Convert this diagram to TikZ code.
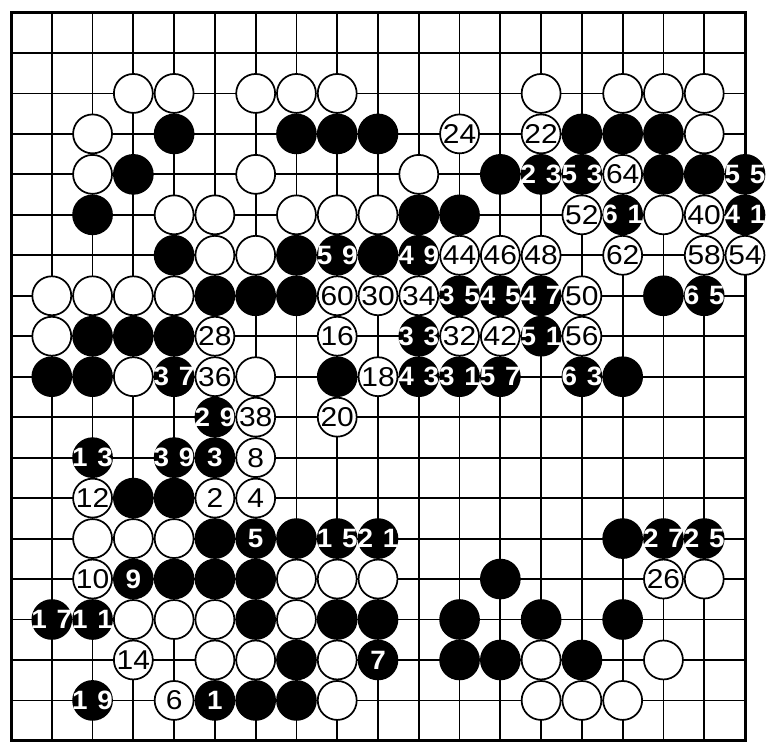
\documentclass[tikz,border=0pt]{standalone}
\usepackage{fontspec}
\setmainfont{Liberation Sans}
\newfontfamily\wfont[FakeStretch=1.1]{Liberation Sans}
\newfontfamily\bfont[FakeStretch=1.05]{Liberation Sans}
\newcommand\WS[3]{\node[wst] (s#1n#2) at (#1,#2) {\makebox[0pt]{#3}};}
\newcommand\BS[3]{\node[bst] (s#1n#2) at (#1,#2) {\makebox[0pt]{#3}};}
\newcommand\BT[4]{\node[bst] (s#1n#2) at (#1,#2) {\makebox[0pt]{#3\kern0.24cm#4}};}
\begin{document}
\begin{tikzpicture}[x=1cm,y=-0.9924cm,
  gl/.style={line width=1.3pt,black},
  edge/.style={line width=2.1pt,black},
  stonebase/.style={circle,minimum size=0.955cm,inner sep=0pt,line width=1.2pt},
  wst/.style={stonebase,draw=black,fill=white,text=black,font=\wfont\fontsize{19}{19}\selectfont},
  bst/.style={stonebase,draw=black,fill=black,text=white,font=\bfont\bfseries\fontsize{18.5}{18.5}\selectfont}]
\useasboundingbox (-0.27,-0.309) rectangle (18.515,18.025);
\foreach \k in {0,...,18}{
  \draw[gl] (\k,0) -- (\k,18);
  \draw[gl] (0,\k) -- (18,\k);
}
\draw[edge] (0,0) rectangle (18,18);
% row 2
\WS{3}{2}{}\WS{4}{2}{}\WS{6}{2}{}\WS{7}{2}{}\WS{8}{2}{}
\WS{13}{2}{}\WS{15}{2}{}\WS{16}{2}{}\WS{17}{2}{}
% row 3
\WS{2}{3}{}\BS{4}{3}{}\BS{7}{3}{}\BS{8}{3}{}\BS{9}{3}{}
\WS{11}{3}{24}\WS{13}{3}{22}\BS{14}{3}{}\BS{15}{3}{}\BS{16}{3}{}\WS{17}{3}{}
% row 4
\WS{2}{4}{}\BS{3}{4}{}\WS{6}{4}{}\WS{10}{4}{}\BS{12}{4}{}
\BT{13}{4}{2}{3}\BT{14}{4}{5}{3}\WS{15}{4}{64}\BS{16}{4}{}\BS{17}{4}{}\BT{18}{4}{5}{5}
% row 5
\BS{2}{5}{}\WS{4}{5}{}\WS{5}{5}{}\WS{7}{5}{}\WS{8}{5}{}\WS{9}{5}{}
\BS{10}{5}{}\BS{11}{5}{}\WS{14}{5}{52}\BT{15}{5}{6}{1}\WS{16}{5}{}\WS{17}{5}{40}\BT{18}{5}{4}{1}
% row 6
\BS{4}{6}{}\WS{5}{6}{}\WS{6}{6}{}\BS{7}{6}{}\BT{8}{6}{5}{9}\BS{9}{6}{}\BT{10}{6}{4}{9}
\WS{11}{6}{44}\WS{12}{6}{46}\WS{13}{6}{48}\WS{15}{6}{62}\WS{17}{6}{58}\WS{18}{6}{54}
% row 7
\WS{1}{7}{}\WS{2}{7}{}\WS{3}{7}{}\WS{4}{7}{}\BS{5}{7}{}\BS{6}{7}{}\BS{7}{7}{}
\WS{8}{7}{60}\WS{9}{7}{30}\WS{10}{7}{34}\BT{11}{7}{3}{5}\BT{12}{7}{4}{5}\BT{13}{7}{4}{7}
\WS{14}{7}{50}\BS{16}{7}{}\BT{17}{7}{6}{5}
% row 8
\WS{1}{8}{}\BS{2}{8}{}\BS{3}{8}{}\BS{4}{8}{}\WS{5}{8}{28}\WS{8}{8}{16}
\BT{10}{8}{3}{3}\WS{11}{8}{32}\WS{12}{8}{42}\BT{13}{8}{5}{1}\WS{14}{8}{56}
% row 9
\BS{1}{9}{}\BS{2}{9}{}\WS{3}{9}{}\BT{4}{9}{3}{7}\WS{5}{9}{36}\WS{6}{9}{}
\BS{8}{9}{}\WS{9}{9}{18}\BT{10}{9}{4}{3}\BT{11}{9}{3}{1}\BT{12}{9}{5}{7}
\BT{14}{9}{6}{3}\BS{15}{9}{}
% row 10
\BT{5}{10}{2}{9}\WS{6}{10}{38}\WS{8}{10}{20}
% row 11
\BT{2}{11}{1}{3}\BT{4}{11}{3}{9}\BS{5}{11}{3}\WS{6}{11}{8}
% row 12
\WS{2}{12}{12}\BS{3}{12}{}\BS{4}{12}{}\WS{5}{12}{2}\WS{6}{12}{4}
% row 13
\WS{2}{13}{}\WS{3}{13}{}\WS{4}{13}{}\BS{5}{13}{}\BS{6}{13}{5}\BS{7}{13}{}
\BT{8}{13}{1}{5}\BT{9}{13}{2}{1}\BS{15}{13}{}\BT{16}{13}{2}{7}\BT{17}{13}{2}{5}
% row 14
\WS{2}{14}{10}\BS{3}{14}{9}\BS{4}{14}{}\BS{5}{14}{}\BS{6}{14}{}
\WS{7}{14}{}\WS{8}{14}{}\WS{9}{14}{}\BS{12}{14}{}\WS{16}{14}{26}\WS{17}{14}{}
% row 15
\BT{1}{15}{1}{7}\BT{2}{15}{1}{1}\WS{3}{15}{}\WS{4}{15}{}\WS{5}{15}{}\BS{6}{15}{}
\WS{7}{15}{}\BS{8}{15}{}\BS{9}{15}{}\BS{11}{15}{}\BS{13}{15}{}\BS{15}{15}{}
% row 16
\WS{3}{16}{14}\WS{5}{16}{}\WS{6}{16}{}\BS{7}{16}{}\WS{8}{16}{}\BS{9}{16}{7}
\BS{11}{16}{}\BS{12}{16}{}\WS{13}{16}{}\BS{14}{16}{}\WS{16}{16}{}
% row 17
\BT{2}{17}{1}{9}\WS{4}{17}{6}\BS{5}{17}{1}\BS{6}{17}{}\BS{7}{17}{}\WS{8}{17}{}
\WS{13}{17}{}\WS{14}{17}{}\WS{15}{17}{}
\end{tikzpicture}
\end{document}
